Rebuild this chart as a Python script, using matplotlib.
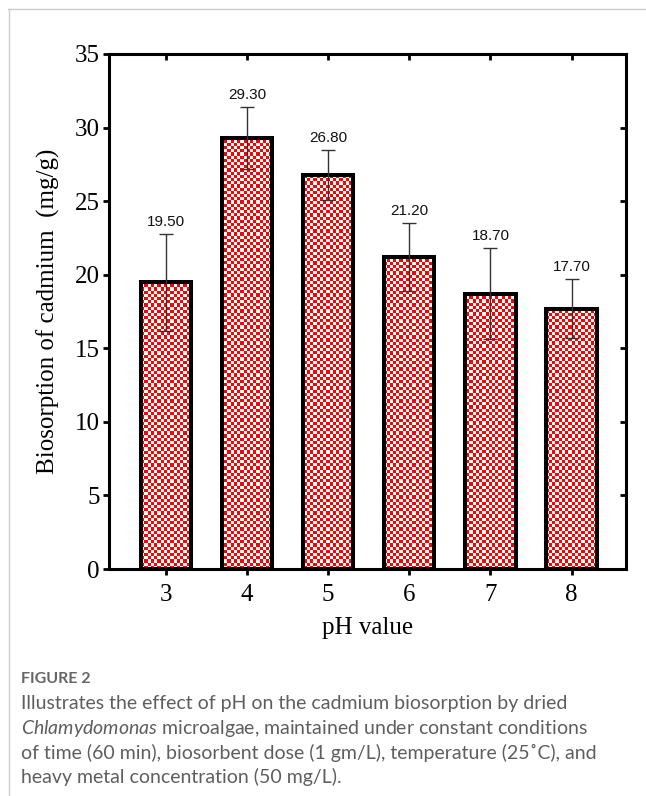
import numpy as np
import matplotlib
matplotlib.use('Agg')
import matplotlib.pyplot as plt
from matplotlib.colors import ListedColormap
from matplotlib.lines import Line2D

# data
ph_values = [3, 4, 5, 6, 7, 8]
biosorption = [19.50, 29.30, 26.80, 21.20, 18.70, 17.70]
errors = [3.3, 2.1, 1.7, 2.3, 3.1, 2.0]
y_ticks = [0, 5, 10, 15, 20, 25, 30, 35]

caption_title = 'FIGURE 2'
caption_lines = [
    'Illustrates the effect of pH on the cadmium biosorption by dried',
    r'$\it{Chlamydomonas}$ microalgae, maintained under constant conditions',
    'of time (60 min), biosorbent dose (1 gm/L), temperature (25\u02daC), and',
    'heavy metal concentration (50 mg/L).',
]

W, H = 646, 796
fig = plt.figure(figsize=(W / 100, H / 100), dpi=100)

# axes box in pixel coords
left, right, top, bottom = 109, 626, 54, 569
ax = fig.add_axes([left / W, 1 - bottom / H, (right - left) / W, (bottom - top) / H])

serif = 'Liberation Serif'

bars = ax.bar(ph_values, biosorption, width=0.62, facecolor='none',
              edgecolor='black', linewidth=2.9, zorder=3)
ax.set_xlim(2.3, 8.67)
ax.set_ylim(0, 35)

# red/white checkerboard inside each bar
cell = 3.2
ny = int(np.ceil((bottom - top) / cell))
nx = int(np.ceil((right - left) / cell))
ii, jj = np.indices((ny, nx))
checker = (ii + jj) % 2
cmap = ListedColormap(['white', '#ff0000'])
for b in bars:
    im = ax.imshow(checker, cmap=cmap, extent=(2.3, 8.67, 0, 35), aspect='auto',
                   interpolation='nearest', zorder=2)
    im.set_clip_path(b)

ax.errorbar(ph_values, biosorption, yerr=errors, fmt='none', ecolor='#333333',
            elinewidth=1.0, capsize=4.7, capthick=1.0, zorder=4)

for x, v, e in zip(ph_values, biosorption, errors):
    ax.annotate(f'{v:.2f}', (x, v + e), xytext=(0, 3.5), textcoords='offset points',
                ha='center', va='bottom', fontsize=11, family='Liberation Sans',
                color='#111111', zorder=5)

ax.set_xticks(ph_values)
ax.set_yticks(y_ticks)
ax.tick_params(axis='both', which='major', labelsize=18, width=2.0, length=4.5,
               direction='out', pad=2)
ax.tick_params(axis='x', pad=6)
for lab in ax.get_xticklabels() + ax.get_yticklabels():
    lab.set_family(serif)

for s in ax.spines.values():
    s.set_linewidth(2.2)

# inward ticks on the top and right edges
ax_top = ax.secondary_xaxis('top')
ax_top.set_xticks(ph_values)
ax_top.tick_params(direction='in', length=4.5, width=2.0, labeltop=False)
ax_top.spines['top'].set_visible(False)
ax_right = ax.secondary_yaxis('right')
ax_right.set_yticks(y_ticks)
ax_right.tick_params(direction='in', length=4.5, width=2.0, labelright=False)
ax_right.spines['right'].set_visible(False)

ax.set_xlabel('pH value', fontsize=18, family=serif, labelpad=8)
ax.set_ylabel('Biosorption of cadmium  (mg/g)', fontsize=18, family=serif, labelpad=11)

# panel border
fig.add_artist(Line2D([8 / W, 1], [1 - 9 / H, 1 - 9 / H], color='#cccccc', lw=1))
fig.add_artist(Line2D([9 / W, 9 / W], [0, 1 - 9 / H], color='#cccccc', lw=1))

# caption
plt.rcParams['mathtext.fontset'] = 'custom'
plt.rcParams['mathtext.it'] = 'Lato:italic'
cap_font = 'Lato'
fig.text(21 / W, 1 - 679 / H, caption_title, fontsize=11.5, family=cap_font,
         fontweight='bold', color='#666666', va='center')
for k, line in enumerate(caption_lines):
    fig.text(21 / W, 1 - (704 + 24.3 * k) / H, line, fontsize=14, family=cap_font,
             color='#5e5e5e', va='center')

fig.savefig('out.png', dpi=100)
